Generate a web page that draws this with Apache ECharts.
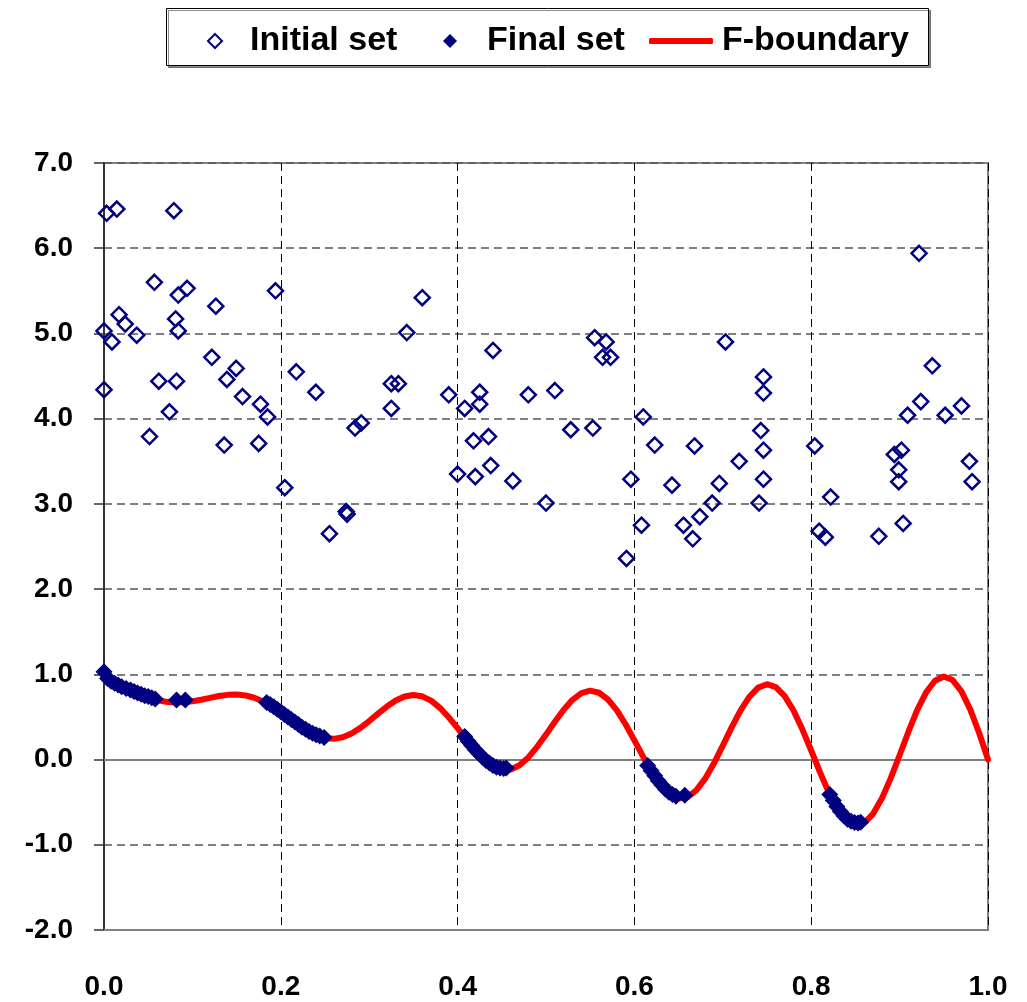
<!DOCTYPE html>
<html>
<head>
<meta charset="utf-8">
<script src="https://cdn.jsdelivr.net/npm/echarts@6/dist/echarts.min.js"></script>
<style>
html,body{margin:0;padding:0;background:#fff;}
#chart{width:1027px;height:1002px;}
</style>
</head>
<body>
<div id="chart"></div>
<script>
// ---- data ----
const initialSet = [
  [0.003,6.41],[0.0145,6.46],[0.079,6.44],[0.057,5.60],[0.084,5.45],[0.094,5.53],[0.194,5.50],
  [0.1265,5.32],[0.017,5.22],[0.024,5.11],[0.081,5.17],[0.084,5.03],[0.0,5.03],[0.009,4.90],
  [0.037,4.98],[0.122,4.72],[0.1495,4.59],[0.139,4.46],[0.062,4.44],[0.082,4.44],[0.0,4.34],
  [0.2175,4.55],[0.2396,4.31],[0.1567,4.26],[0.177,4.17],[0.185,4.02],[0.074,4.08],[0.0515,3.79],
  [0.136,3.69],[0.175,3.71],[0.2045,3.19],[0.274,2.91],[0.275,2.88],[0.255,2.65],[0.284,3.89],
  [0.291,3.95],[0.325,4.41],[0.333,4.41],[0.325,4.12],[0.36,5.42],[0.3425,5.01],[0.44,4.80],
  [0.39,4.28],[0.425,4.31],[0.425,4.17],[0.408,4.12],[0.48,4.28],[0.51,4.33],[0.555,4.95],
  [0.568,4.90],[0.564,4.72],[0.573,4.72],[0.61,4.02],[0.418,3.74],[0.435,3.79],[0.528,3.87],
  [0.553,3.89],[0.623,3.69],[0.40,3.35],[0.42,3.32],[0.4375,3.45],[0.4625,3.27],[0.50,3.01],
  [0.596,3.29],[0.608,2.75],[0.591,2.36],[0.922,5.94],[0.703,4.90],[0.746,4.49],[0.746,4.30],
  [0.743,3.86],[0.746,3.63],[0.746,3.29],[0.741,3.01],[0.668,3.68],[0.7185,3.50],[0.696,3.24],
  [0.688,3.01],[0.674,2.85],[0.6555,2.75],[0.666,2.59],[0.6425,3.22],[0.804,3.68],[0.822,3.08],
  [0.809,2.68],[0.816,2.61],[0.8765,2.62],[0.904,2.77],[0.937,4.62],[0.924,4.20],[0.909,4.04],
  [0.9515,4.04],[0.97,4.15],[0.894,3.58],[0.902,3.63],[0.899,3.40],[0.899,3.26],[0.979,3.50],
  [0.982,3.26]
];

const finalX = [
  0.000,0.004,0.008,0.012,0.016,0.020,0.025,0.030,0.034,0.038,0.042,0.046,0.050,0.054,0.058,0.082,0.092,
  0.184,0.188,0.192,0.196,0.200,0.204,0.208,0.212,0.216,0.220,0.224,0.228,0.232,0.236,0.240,0.244,0.249,
  0.408,0.412,0.416,0.420,0.424,0.428,0.432,0.436,0.440,0.444,0.448,0.452,0.455,
  0.615,0.619,0.623,0.627,0.631,0.635,0.639,0.643,0.647,0.657,
  0.821,0.825,0.829,0.833,0.837,0.841,0.845,0.849,0.853,0.856
];
const finalY = [
  1.03,0.95,0.92,0.895,0.875,0.855,0.835,0.815,0.80,0.78,0.765,0.75,0.74,0.725,0.71,0.70,0.70,
  0.67,0.645,0.62,0.59,0.56,0.53,0.50,0.47,0.44,0.41,0.38,0.355,0.33,0.31,0.29,0.275,0.26,
  0.27,0.215,0.165,0.115,0.07,0.03,-0.01,-0.04,-0.07,-0.09,-0.10,-0.105,-0.10,
  -0.07,-0.13,-0.19,-0.25,-0.30,-0.345,-0.385,-0.41,-0.43,-0.42,
  -0.41,-0.48,-0.55,-0.61,-0.66,-0.70,-0.725,-0.74,-0.745,-0.735
];

const boundaryX = [
  0.00,0.01,0.02,0.03,0.04,0.05,0.06,0.07,0.08,0.09,0.10,0.11,0.12,0.13,0.14,0.15,0.16,0.17,0.18,0.19,
  0.20,0.21,0.22,0.23,0.24,0.25,0.26,0.27,0.28,0.29,0.30,0.31,0.32,0.33,0.34,0.35,0.36,0.37,0.38,0.39,
  0.40,0.41,0.42,0.43,0.44,0.45,0.46,0.47,0.48,0.49,0.50,0.51,0.52,0.53,0.54,0.55,0.56,0.57,0.58,0.59,
  0.60,0.61,0.62,0.63,0.64,0.65,0.66,0.67,0.68,0.69,0.70,0.71,0.72,0.73,0.74,0.75,0.76,0.77,0.78,0.79,
  0.80,0.81,0.82,0.83,0.84,0.85,0.86,0.87,0.88,0.89,0.90,0.91,0.92,0.93,0.94,0.95,0.96,0.97,0.98,0.99,1.00
];
const boundaryY = [
  1.000,0.897,0.847,0.803,0.762,0.726,0.698,0.679,0.670,0.672,0.684,0.702,0.724,0.745,0.759,0.763,0.752,0.725,0.682,0.623,
  0.553,0.477,0.402,0.334,0.282,0.250,0.243,0.262,0.306,0.372,0.452,0.539,0.622,0.693,0.740,0.758,0.742,0.691,0.607,0.496,
  0.368,0.233,0.105,-0.004,-0.082,-0.121,-0.116,-0.066,0.025,0.149,0.293,0.444,0.585,0.701,0.779,0.808,0.784,0.706,0.579,0.414,
  0.225,0.031,-0.152,-0.303,-0.409,-0.456,-0.440,-0.361,-0.224,-0.044,0.163,0.377,0.575,0.736,0.844,0.884,0.851,0.745,0.575,0.355,
  0.106,-0.150,-0.388,-0.583,-0.715,-0.772,-0.745,-0.637,-0.455,-0.218,0.051,0.327,0.582,0.788,0.925,0.975,0.933,0.800,0.586,0.311,0.000
];

const xTicks = [0.0,0.2,0.4,0.6,0.8,1.0];
const yTicks = [-2.0,-1.0,0.0,1.0,2.0,3.0,4.0,5.0,6.0,7.0];

// ---- build ----
const NAVY = '#000080';
const FONT = 'Arial, "Liberation Sans", sans-serif';
const finalSet = finalX.map((x,i)=>[x,finalY[i]]);
const boundary = boundaryX.map((x,i)=>[x,boundaryY[i]]);

function legendText(padLeft){
  return {fontSize:34, fontWeight:'bold', color:'#000', fontFamily:FONT, lineHeight:40, padding:[0,0,0,padLeft]};
}

const chart = echarts.init(document.getElementById('chart'), null, {renderer:'canvas'});
chart.setOption({
  backgroundColor:'#fff',
  animation:false,
  graphic:[{
    type:'rect', left:166, top:8, z:-1,
    shape:{width:762, height:57},
    style:{fill:'#fff', stroke:'#000', lineWidth:1, shadowColor:'rgba(0,0,0,0.45)', shadowOffsetX:2, shadowOffsetY:2, shadowBlur:0}
  }],
  legend:[
    {data:[{name:'Initial set', icon:'diamond'}], left:202, top:16, itemWidth:14, itemHeight:14,
     itemStyle:{color:'rgba(255,255,255,0)', borderColor:NAVY, borderWidth:2, opacity:1},
     textStyle:legendText(23), selectedMode:false},
    {data:[{name:'Final set', icon:'diamond'}], left:438, top:16, itemWidth:14, itemHeight:14,
     itemStyle:{color:NAVY, borderWidth:0, opacity:1},
     textStyle:legendText(25), selectedMode:false},
    {data:[{name:'F-boundary', icon:'roundRect'}], left:644, top:16, itemWidth:64, itemHeight:6,
     itemStyle:{color:'#ff0000', borderWidth:0},
     textStyle:legendText(4), selectedMode:false}
  ],
  grid:{left:104, right:39, top:163, bottom:72, show:true, borderColor:'#808080', borderWidth:2, backgroundColor:'transparent'},
  xAxis:{
    type:'value', min:xTicks[0], max:xTicks[xTicks.length-1], interval:0.2,
    axisLine:{show:true, onZero:false, lineStyle:{color:'#808080', width:2}},
    axisTick:{show:false},
    axisLabel:{margin:43, fontSize:28, fontWeight:'bold', color:'#000', fontFamily:FONT, formatter:v=>v.toFixed(1)},
    splitLine:{show:true, lineStyle:{color:'#000', width:1, type:[8,5]}}
  },
  yAxis:{
    type:'value', min:yTicks[0], max:yTicks[yTicks.length-1], interval:1,
    axisLine:{show:true, onZero:false, lineStyle:{color:'#333', width:2}},
    axisTick:{show:true, length:10, inside:false, lineStyle:{color:'#333', width:1.5}},
    axisLabel:{margin:31, fontSize:28, fontWeight:'bold', color:'#000', fontFamily:FONT, formatter:v=>v.toFixed(1)},
    splitLine:{show:true, lineStyle:{color:'#555', width:1.5, type:[8,5]}}
  },
  series:[
    {
      name:'Initial set', type:'scatter', data:initialSet, symbol:'diamond', symbolSize:15, z:3,
      itemStyle:{color:'rgba(255,255,255,0)', borderColor:NAVY, borderWidth:2.5, opacity:1}
    },
    {
      name:'F-boundary', type:'line', data:boundary, showSymbol:false, symbol:'none', smooth:false, z:2,
      lineStyle:{color:'#ff0000', width:6, cap:'round', join:'round'},
      itemStyle:{color:'#ff0000'},
      markLine:{silent:true, symbol:'none', label:{show:false}, z:1,
        lineStyle:{color:'#808080', width:2, type:'solid'}, data:[{yAxis:0}]}
    },
    {
      name:'Final set', type:'scatter', data:finalSet, symbol:'diamond', symbolSize:17, z:4,
      itemStyle:{color:NAVY, opacity:1}
    }
  ]
});
</script>
</body>
</html>
